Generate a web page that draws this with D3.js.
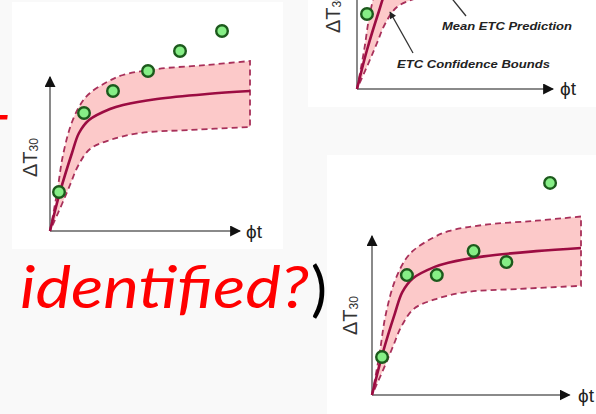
<!DOCTYPE html>
<html>
<head>
<meta charset="utf-8">
<script src="https://cdn.jsdelivr.net/npm/d3@7"></script>
<style>
  body { margin: 0; background: #f9f9f9; }
  svg { display: block; }
</style>
</head>
<body>
<svg id="chart"></svg>
<script>
// schematic curves, in chart units (phi t: 0..10, delta T30: 0..10)
const meanCurve = [[0,0],[0.5,1.95],[1.1,3.9],[1.45,4.9],[1.95,5.55],[3.0,6.1],[3.65,6.3],[5.35,6.6],[7.85,6.85],[10,7.0]];
const upperBound = [[0,0],[0.35,1.9],[0.65,3.8],[1.1,5.45],[1.6,6.45],[2.0,6.9],[2.85,7.45],[3.65,7.8],[5.35,8.1],[7.85,8.3],[10,8.5]];
const lowerBound = [[0,0],[0.6,1.35],[1.0,2.3],[1.4,3.25],[2.0,4.1],[3.0,4.55],[4.5,4.9],[7.0,5.05],[10,5.2]];

// measured points per panel
const pointsTopLeft = [[0.45,1.95],[1.7,5.9],[3.15,7.0],[4.9,8.0],[6.5,9.0],[8.6,10.0]];
const pointsTopRight = [[0.5,3.75]];
const pointsBottomRight = [[0.48,1.81],[1.67,5.71],[3.1,5.71],[4.86,6.86],[6.43,6.33],[8.52,10.1]];

const width = 596, height = 414;
const svg = d3.select("#chart").attr("width", width).attr("height", height);

const defs = svg.append("defs");
defs.append("marker")
    .attr("id", "axisArrow")
    .attr("viewBox", "0 0 10 10")
    .attr("refX", 9).attr("refY", 5)
    .attr("markerWidth", 11).attr("markerHeight", 11)
    .attr("markerUnits", "userSpaceOnUse")
    .attr("orient", "auto")
    .append("path").attr("d", "M0,0L10,5L0,10Z").attr("fill", "#111");
defs.append("marker")
    .attr("id", "noteArrow")
    .attr("viewBox", "0 0 10 10")
    .attr("refX", 9).attr("refY", 5)
    .attr("markerWidth", 8).attr("markerHeight", 7)
    .attr("markerUnits", "userSpaceOnUse")
    .attr("orient", "auto")
    .append("path").attr("d", "M0,0L10,5L0,10Z").attr("fill", "#222");

// white picture boxes pasted on the slide
const boxes = [
    { x: 12, y: 2, w: 271, h: 247 },
    { x: 308, y: 0, w: 288, h: 107 },
    { x: 327, y: 155, w: 269, h: 259 }
];
svg.selectAll("rect.box")
    .data(boxes)
    .enter().append("rect")
    .attr("class", "box")
    .attr("x", d => d.x).attr("y", d => d.y)
    .attr("width", d => d.w).attr("height", d => d.h)
    .attr("fill", "#fff");

const panels = [
    { id: "tl", xr: [50, 250], yr: [231, 31], xTip: 9.5, yTip: 7.7, points: pointsTopLeft,
      label: [37, 177], phi: [246, 238] },
    { id: "tr", xr: [357, 557], yr: [89, -111], xTip: 9.8, yTip: 6, points: pointsTopRight,
      label: [340, 33], phi: [560, 95] },
    { id: "br", xr: [372, 581], yr: [395, 185], xTip: 9.45, yTip: 7.57, points: pointsBottomRight,
      label: [357, 335], phi: [578, 402] }
];

const curve = d3.curveCatmullRom.alpha(0.5);

panels.forEach(p => {
    const x = d3.scaleLinear().domain([0, 10]).range(p.xr);
    const y = d3.scaleLinear().domain([0, 10]).range(p.yr);
    const line = d3.line().x(d => x(d[0])).y(d => y(d[1])).curve(curve);
    const g = svg.append("g").attr("class", p.id);

    // axes
    g.append("line")
        .attr("x1", x(0)).attr("y1", y(0))
        .attr("x2", x(p.xTip)).attr("y2", y(0))
        .attr("stroke", "#8a8a8a").attr("stroke-width", 2)
        .attr("marker-end", "url(#axisArrow)");
    g.append("line")
        .attr("x1", x(0)).attr("y1", y(0))
        .attr("x2", x(0)).attr("y2", y(p.yTip))
        .attr("stroke", "#8a8a8a").attr("stroke-width", 2)
        .attr("marker-end", "url(#axisArrow)");

    // confidence band: upper bound out, lower bound back
    const band = line(upperBound) + "L" + line(lowerBound.slice().reverse()).slice(1);
    g.append("path")
        .attr("d", band)
        .attr("fill", "#fcc9c9")
        .attr("stroke", "#a8305a")
        .attr("stroke-width", 1.8)
        .attr("stroke-dasharray", "6,4");

    // mean prediction
    g.append("path")
        .attr("d", line(meanCurve))
        .attr("fill", "none")
        .attr("stroke", "#9c0c42")
        .attr("stroke-width", 2.6);

    g.selectAll("circle")
        .data(p.points)
        .enter().append("circle")
        .attr("cx", d => x(d[0]))
        .attr("cy", d => y(d[1]))
        .attr("r", 5.8)
        .attr("fill", "#86ee86")
        .attr("stroke", "#1c5a1c")
        .attr("stroke-width", 2.4);

    const lab = g.append("text")
        .attr("transform", `translate(${p.label[0]},${p.label[1]}) rotate(-90)`)
        .attr("font-family", "Liberation Sans, Arial, sans-serif")
        .attr("font-size", 20)
        .attr("fill", "#333");
    lab.append("tspan").text("ΔT");
    lab.append("tspan").attr("font-size", 12).attr("dy", 1).text("30");

    g.append("text")
        .attr("x", p.phi[0]).attr("y", p.phi[1])
        .attr("font-family", "Liberation Sans, Arial, sans-serif")
        .attr("font-size", 19)
        .attr("fill", "#222")
        .text("ϕt");
});

// annotations of the top right picture
const xTR = d3.scaleLinear().domain([0, 10]).range(panels[1].xr);
const yTR = d3.scaleLinear().domain([0, 10]).range(panels[1].yr);
const notes = svg.append("g")
    .attr("font-family", "Liberation Sans, Arial, sans-serif")
    .attr("font-weight", "bold")
    .attr("font-style", "italic")
    .attr("font-size", 11)
    .attr("fill", "#222");
notes.append("line")
    .attr("x1", xTR(5.45)).attr("y1", yTR(3.65))
    .attr("x2", xTR(4.4)).attr("y2", yTR(4.95))
    .attr("stroke", "#333").attr("stroke-width", 1.3);
notes.append("line")
    .attr("x1", xTR(2.8)).attr("y1", yTR(1.8))
    .attr("x2", xTR(1.65)).attr("y2", yTR(3.85))
    .attr("stroke", "#333").attr("stroke-width", 1.3)
    .attr("marker-end", "url(#noteArrow)");
notes.append("text")
    .attr("x", 442).attr("y", 30)
    .attr("textLength", 130).attr("lengthAdjust", "spacingAndGlyphs")
    .text("Mean ETC Prediction");
notes.append("text")
    .attr("x", 397).attr("y", 68)
    .attr("textLength", 153).attr("lengthAdjust", "spacingAndGlyphs")
    .text("ETC Confidence Bounds");

// slide text behind the pictures (cut by the left edge, as in the slide)
svg.append("text")
    .attr("x", -26).attr("y", 157)
    .attr("font-family", "Lato, Open Sans, sans-serif")
    .attr("font-style", "italic")
    .attr("font-size", 58)
    .attr("fill", "#ff0000")
    .text("T");
svg.append("text")
    .attr("x", 20).attr("y", 308)
    .attr("font-family", "Lato, Open Sans, sans-serif")
    .attr("font-style", "italic")
    .attr("font-size", 58)
    .attr("fill", "#ff0000")
    .attr("textLength", 289).attr("lengthAdjust", "spacingAndGlyphs")
    .text("identified?");
svg.append("text")
    .attr("x", 311).attr("y", 310)
    .attr("font-family", "Lato, Open Sans, sans-serif")
    .attr("font-size", 60)
    .attr("fill", "#000")
    .text(")");
</script>
</body>
</html>
